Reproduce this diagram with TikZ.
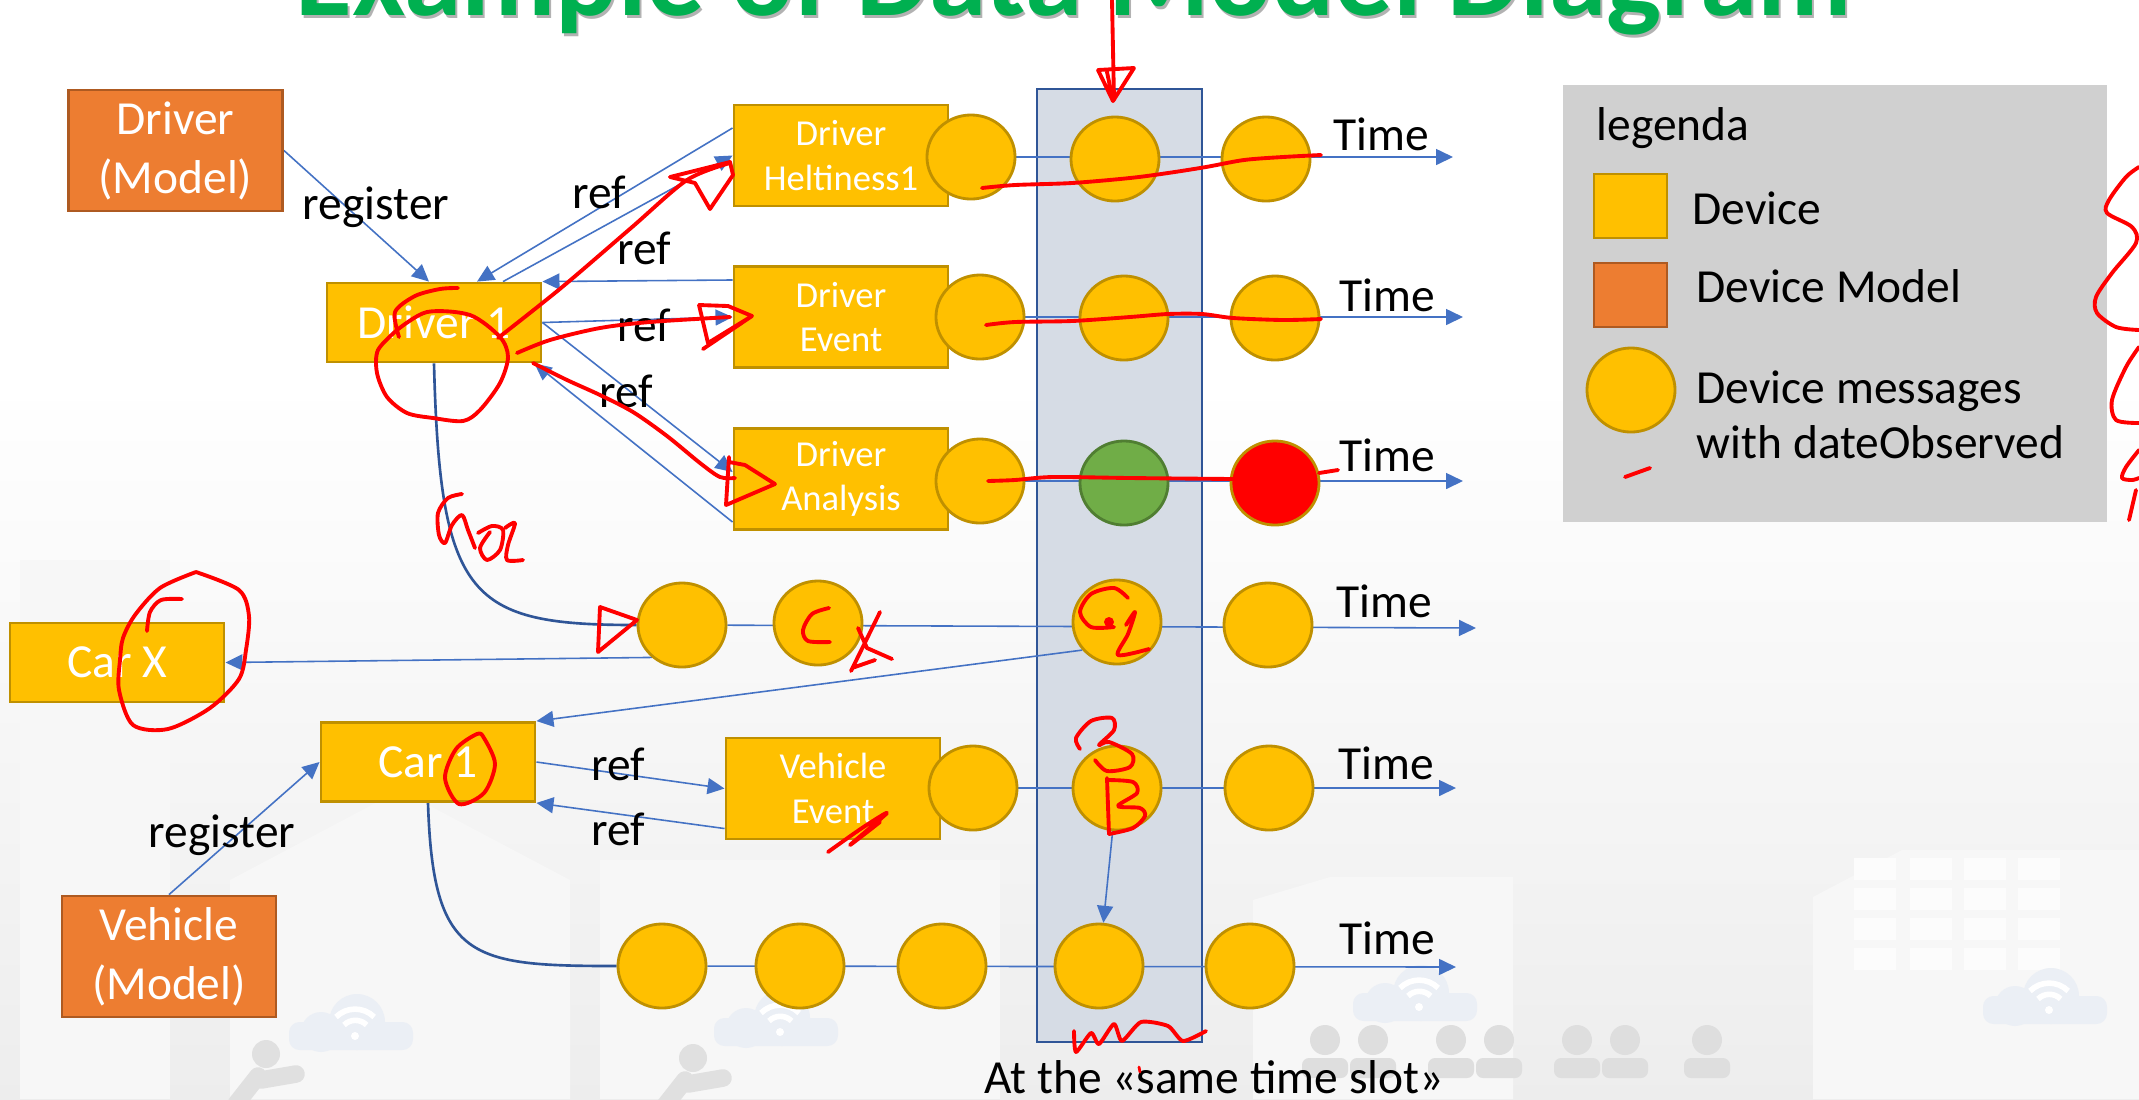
\documentclass[tikz,border=0pt]{standalone}
\usepackage{fontspec}
\setmainfont{Carlito}
\usetikzlibrary{
    positioning,
    arrows.meta,
    shapes.geometric
}
\pgfdeclarelayer{fondo}
\pgfdeclarelayer{lineas}
\pgfsetlayers{fondo,lineas,main}

\definecolor{amarillo}{HTML}{FFC000}
\definecolor{oro}{HTML}{BF9000}
\definecolor{naranja}{HTML}{ED7D31}
\definecolor{naranjaosc}{HTML}{AE5A21}
\definecolor{verde}{HTML}{70AD47}
\definecolor{verdeosc}{HTML}{507E32}
\definecolor{azul}{HTML}{4472C4}
\definecolor{azulosc}{HTML}{2F5597}
\definecolor{franja}{HTML}{D6DCE5}
\definecolor{leyenda}{HTML}{D0D0D0}
\definecolor{titulo}{HTML}{00B050}
\definecolor{nube}{HTML}{EBEFF5}

\newcommand{\grande}{\fontsize{13.5}{16.8}\selectfont}
\newcommand{\chico}{\fontsize{10.4}{12.7}\selectfont}

\tikzset{
    >={Triangle[length=1.7mm,width=1.6mm]},
    device/.style={
        draw=oro, fill=amarillo, line width=0.8pt,
        text=white, minimum width=21.4mm,
        inner sep=0pt, align=center
    },
    devbig/.style={device, font=\grande, minimum height=7.9mm},
    devsmall/.style={device, font=\chico, minimum height=10.1mm},
    model/.style={devbig, draw=naranjaosc, fill=naranja, minimum height=12.1mm},
    msg/.style={
        ellipse, draw=oro, fill=amarillo, line width=0.8pt,
        minimum width=8.8mm, minimum height=8.4mm, inner sep=0pt
    },
    link/.style={->, draw=azul, line width=0.45pt},
    vida/.style={draw=azulosc, line width=0.75pt},
    etiq/.style={font=\grande, inner sep=0pt},
    txt/.style={font=\grande, inner sep=0pt, anchor=base west},
    tinta/.style={draw=red, line width=1.1pt, line cap=round, line join=round}
}

\begin{document}
\begin{tikzpicture}[x=0.01cm, y=-0.01cm]

    \useasboundingbox (0,0) rectangle (2139,1099);

    % Fondo
    \begin{pgfonlayer}{fondo}
        \fill[white] (0,0) rectangle (2139,1099);
        \shade[top color=white, bottom color=black!7] (0,380) rectangle (2139,1099);
        \fill[black!3] (20,560) rectangle (170,1099);
        \fill[black!3] (230,1099) -- (230,880) -- (400,790) -- (570,880) -- (570,1099) -- cycle;
        \fill[black!3] (600,860) rectangle (1000,1099);
        \fill[black!3] (1253,1099) -- (1253,900) -- (1330,877) -- (1513,877) -- (1513,1099) -- cycle;
        \fill[black!3] (1813,1099) -- (1813,897) -- (1902,850) -- (2139,850) -- (2139,1099) -- cycle;
        \foreach \wx in {1854,1910,1964,2018}
            \foreach \wy in {858,888,918,948}
                \fill[black!1] (\wx,\wy) rectangle (\wx+42,\wy+22);
        \foreach \cx/\cy in {351/1030, 776/1026, 1415/1001, 2045/1004} {
            \fill[nube, rounded corners=3pt] (\cx-62,\cy-8) rectangle (\cx+62,\cy+20);
            \fill[nube] (\cx+6,\cy-8) circle[radius=28];
            \fill[nube] (\cx-30,\cy+2) circle[radius=20];
            \fill[white] (\cx+4,\cy+6) circle[radius=4];
            \draw[white, line width=1.6pt] (\cx-7,\cy-5) arc[start angle=225, end angle=315, radius=16];
            \draw[white, line width=1.6pt] (\cx-15,\cy-13) arc[start angle=225, end angle=315, radius=27];
        }
        \foreach \px in {1325,1373,1451,1499,1577,1625,1707} {
            \fill[black!13] (\px,1040) circle[radius=15];
            \fill[black!13, rounded corners=2pt] (\px-23,1078) rectangle (\px+23,1058);
        }
        \foreach \hx/\hy in {266/1054, 693/1058} {
            \fill[black!12] (\hx,\hy) circle[radius=14];
            \draw[black!12, line width=5pt, line cap=round]
                (\hx-8,\hy+22) -- (\hx-30,\hy+50)
                (\hx-5,\hy+26) -- (\hx+30,\hy+20);
        }

        % Franja temporal y leyenda
        \filldraw[fill=franja, draw=azulosc, line width=0.75pt] (1037,89) rectangle (1202,1042);
        \fill[leyenda] (1563,85) rectangle (2107,522);
    \end{pgfonlayer}

    % Titulo
    \node[anchor=base, font=\fontsize{33}{40}\selectfont\bfseries, text=black!30, inner sep=0pt]
        (titsh) at (1076,18) {Example of Data Model Diagram};
    \node[anchor=base, font=\fontsize{33}{40}\selectfont\bfseries, text=titulo, inner sep=0pt]
        (tit) at (1074,15) {Example of Data Model Diagram};

    % Dispositivos
    \node[model]    (drvm) at (175.5,150.5) {Driver\\(Model)};
    \node[devbig]   (drv1) at (434,322.5)   {Driver 1};
    \node[devsmall] (helt) at (841,155.5)   {Driver\\Heltiness1};
    \node[devsmall] (evt)  at (841,317)     {Driver\\Event};
    \node[devsmall] (anl)  at (841,479)     {Driver\\Analysis};
    \node[devbig]   (carx) at (117,662.5)   {Car X};
    \node[devbig]   (car1) at (428,762)     {Car 1};
    \node[devsmall] (vevt) at (833,788.5)   {Vehicle\\Event};
    \node[model]    (vehm) at (169,956.5)   {Vehicle\\(Model)};

    % Mensajes
    \node[msg] (m11) at (971,157)  {};
    \node[msg] (m12) at (1115,159) {};
    \node[msg] (m13) at (1266,159) {};

    \node[msg] (m21) at (980,317)  {};
    \node[msg] (m22) at (1124,318) {};
    \node[msg] (m23) at (1275,318) {};

    \node[msg] (m31) at (980,481)  {};
    \node[msg, fill=verde, draw=verdeosc] (m32) at (1124,483) {};
    \node[msg, fill=red] (m33) at (1275,483) {};

    \node[msg] (m41) at (682,625)  {};
    \node[msg] (m42) at (818,623)  {};
    \node[msg] (m43) at (1117,622) {};
    \node[msg] (m44) at (1268,625) {};

    \node[msg] (m51) at (973,788)  {};
    \node[msg] (m52) at (1117,788) {};
    \node[msg] (m53) at (1269,788) {};

    \node[msg] (m61) at (662,966)  {};
    \node[msg] (m62) at (800,966)  {};
    \node[msg] (m63) at (942,966)  {};
    \node[msg] (m64) at (1099,966) {};
    \node[msg] (m65) at (1250,966) {};

    % Ejes de tiempo
    \coordinate (t1) at (1453,157);
    \coordinate (t2) at (1463,317);
    \coordinate (t3) at (1463,481);
    \coordinate (t4) at (1476,628);
    \coordinate (t5) at (1456,788);
    \coordinate (t6) at (1456,967);

    \node[txt] (time1) at (1333,150) {Time};
    \node[txt] (time2) at (1339,311) {Time};
    \node[txt] (time3) at (1339,471) {Time};
    \node[txt] (time4) at (1336,617) {Time};
    \node[txt] (time5) at (1338,779) {Time};
    \node[txt] (time6) at (1339,954) {Time};

    % Etiquetas
    \node[etiq] (reg1) at (376,207) {register};
    \node[etiq] (reg2) at (222,835) {register};
    \node[etiq] (ref1) at (599,192) {ref};
    \node[etiq] (ref2) at (644,248) {ref};
    \node[etiq] (ref3) at (644,325) {ref};
    \node[etiq] (ref4) at (626,391) {ref};
    \node[etiq] (ref5) at (618,764) {ref};
    \node[etiq] (ref6) at (618,829) {ref};

    % Leyenda
    \node[txt] (leg) at (1596,140) {legenda};
    \node[device, minimum width=7.3mm, minimum height=6.4mm] (legdev) at (1630.5,206) {};
    \node[device, draw=naranjaosc, fill=naranja, minimum width=7.3mm, minimum height=6.4mm]
        (legmod) at (1630.5,295) {};
    \node[msg] (legmsg) at (1631,390) {};
    \node[txt] (legt1) at (1692,224) {Device};
    \node[txt] (legt2) at (1696,302) {Device Model};
    \node[txt] (legt3) at (1696,403) {Device messages};
    \node[txt] (legt4) at (1696,458) {with dateObserved};

    \node[anchor=base, font=\grande, inner sep=0pt] (slot) at (1214,1093) {At the «same time slot»};

    % Conexiones
    \begin{pgfonlayer}{lineas}
        \draw[link] (m11) -- (t1);
        \draw[link] (m21) -- (t2);
        \draw[link] (m31) -- (t3);
        \draw[link] (m41) -- (t4);
        \draw[link] (m51) -- (t5);
        \draw[link] (m61) -- (t6);

        \draw[link] (drvm.east) -- ([xshift=-0.5mm]drv1.north);
        \draw[link] ([yshift=2.75mm]helt.west) -- ([xshift=4.3mm]drv1.north);
        \draw[link] ([xshift=6.9mm]drv1.north) -- (helt.west);
        \draw[link] ([yshift=3.7mm]evt.west) -- (drv1.north east);
        \draw[link] (drv1.east) -- (evt.west);
        \draw[link] (drv1.east) -- ([yshift=0.7mm]anl.west);
        \draw[link] ([yshift=-4.3mm]anl.west) -- ([xshift=-0.8mm]drv1.south east);

        \draw[link] (m41.227) -- (carx.east);
        \draw[link] (m43.219) -- (car1.north east);
        \draw[link] (car1.east) -- (vevt.west);
        \draw[link] ([yshift=-4mm]vevt.west) -- (car1.south east);
        \draw[link] (vehm.north) -- (car1.west);
        \draw[link] (m52) -- (m64);

        \draw[vida] (drv1.south) .. controls (440,600) and (470,625) .. (m41.west);
        \draw[vida] (car1.south) .. controls (433,960) and (470,966) .. (m61.west);
    \end{pgfonlayer}

    % Anotaciones a mano
    \draw[tinta] (1112,0) -- (1114,100);
    \draw[tinta] (1098,70) -- (1113,101) -- (1134,68) (1098,70) -- (1134,68) (1107,72) -- (1112,96);

    \draw[tinta] plot[smooth] coordinates {(982,188) (1015,185) (1072,183) (1130,178) (1168,173) (1206,167) (1244,160) (1283,157) (1321,155)};
    \draw[tinta] plot[smooth] coordinates {(986,325) (1015,322) (1072,321) (1130,317) (1168,314) (1202,314) (1233,318) (1283,320) (1321,319)};
    \draw[tinta] plot[smooth] coordinates {(988,481) (1015,480) (1053,477) (1130,478) (1233,479)};
    \draw[tinta] (1319,473) -- (1338,470);

    \draw[tinta] plot[smooth] coordinates {(399,337) (395,312) (415,296) (440,289) (458,288)};
    \draw[tinta] plot[smooth] coordinates {(397,330) (427,312) (470,315) (500,337) (508,357) (500,383) (480,410) (463,421) (433,418) (407,413) (387,397) (377,373) (378,350) (397,330)};
    \draw[tinta] plot[smooth] coordinates {(498,338) (561,288) (631,228) (687,180) (730,163)};
    \draw[tinta] (670,177) -- (730,162) -- (733,175) -- (710,209) -- (695,183) -- (670,177);
    \draw[tinta] plot[smooth] coordinates {(517,353) (550,340) (600,328) (650,322) (730,317)};
    \draw[tinta] (699,305) -- (708,343) -- (752,316) -- (728,306) -- (699,305) (752,316) -- (703,349);
    \draw[tinta] plot[smooth] coordinates {(533,363) (567,380) (600,395) (633,412) (667,436) (700,463) (720,477) (735,478)};
    \draw[tinta] (729,457) -- (726,505) -- (775,484) -- (745,465) -- (729,462);

    \draw[tinta] plot[smooth] coordinates {(462,494) (448,498) (438,513) (439,535) (445,543) (452,525) (462,515) (468,530) (475,548)};
    \draw[tinta] plot[smooth] coordinates {(478,533) (492,526) (503,530) (500,550) (487,560) (480,548) (490,532)};
    \draw[tinta] plot[smooth] coordinates {(505,528) (515,523) (508,545) (507,560) (523,560)};

    \draw[tinta] (600,607) -- (598,652) -- (637,620) -- cycle;

    \draw[tinta] plot[smooth] coordinates {(829,608) (812,614) (803,630) (808,641) (830,642)};
    \draw[tinta] (880,612) -- (851,671) (858,628) -- (867,648) -- (892,659) (852,668) -- (875,660);

    \draw[tinta] plot[smooth] coordinates {(147,631) (150,612) (161,600) (182,599)};
    \draw[tinta] plot[smooth] coordinates {(196,572) (239,590) (249,616) (246,650) (239,679) (210,708) (168,729) (133,725) (119,690) (120,660) (123,638) (135,615) (160,588) (196,572)};

    \draw[tinta] plot[smooth cycle] coordinates {(477,734) (456,749) (445,778) (459,804) (484,793) (495,764) (484,738)};

    \draw[tinta] plot[smooth] coordinates {(828,852) (862,828) (887,813) (850,845) (880,822)};

    \draw[tinta] plot[smooth] coordinates {(1128,598) (1114,588) (1091,594) (1080,612) (1091,627) (1114,627)};
    \fill[red] (1109,622) circle[radius=5];
    \draw[tinta] plot[smooth] coordinates {(1126,625) (1135,612) (1128,634) (1118,655) (1149,649)};

    \draw[tinta] plot[smooth] coordinates {(1080,749) (1076,738) (1091,721) (1112,718) (1114,730) (1099,745) (1109,742) (1132,754) (1130,767) (1107,771) (1095,760)};
    \draw[tinta] (1107,778) -- (1109,834);
    \draw[tinta] plot[smooth] coordinates {(1108,780) (1133,782) (1137,793) (1118,806) (1140,808) (1145,816) (1133,828) (1109,834)};

    \draw[tinta] plot[smooth, tension=0.4] coordinates {(1074,1031) (1076,1052) (1091,1033) (1099,1044) (1114,1024) (1122,1041) (1141,1022) (1168,1026) (1183,1041) (1206,1031)};

    \draw[tinta] plot[smooth] coordinates {(2139,167) (2126,177) (2109,200) (2107,213) (2132,227) (2136,243) (2112,273) (2096,297) (2097,313) (2116,327) (2139,330)};
    \draw[tinta] plot[smooth] coordinates {(2139,347) (2126,367) (2112,400) (2116,420) (2139,423)};
    \draw[tinta] plot[smooth] coordinates {(2139,450) (2126,467) (2122,478) (2132,480) (2139,478)};
    \draw[tinta] (2136,490) -- (2129,520);

    \draw[tinta] (1625,477) -- (1650,468);
    \draw[tinta, line width=0.8pt] (1139,1067) -- (1140,1072);

\end{tikzpicture}
\end{document}
